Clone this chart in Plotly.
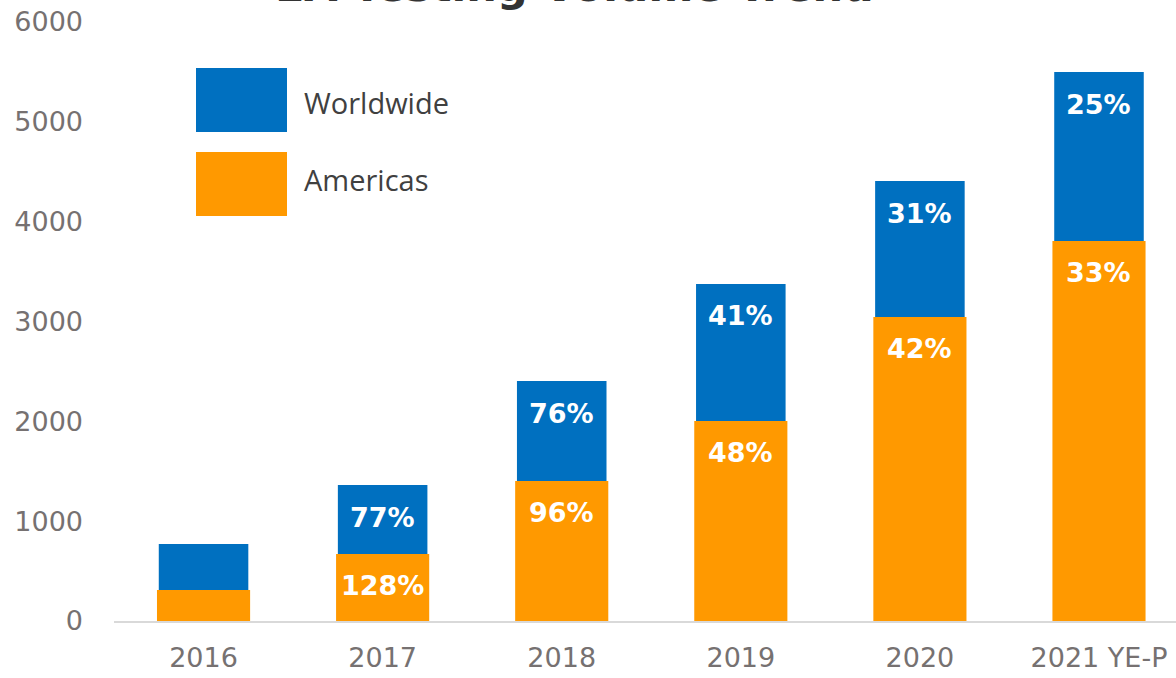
import plotly.graph_objects as go

categories = ["2016", "2017", "2018", "2019", "2020", "2021 YE-P"]
worldwide = [771, 1362, 2404, 3376, 4407, 5499]
americas = [310, 671, 1402, 2003, 3045, 3806]
worldwide_labels = ["", "77%", "76%", "41%", "31%", "25%"]
americas_labels = ["", "128%", "96%", "48%", "42%", "33%"]
y_ticks = [0, 1000, 2000, 3000, 4000, 5000, 6000]

BLUE = "#0070C0"
ORANGE = "#FF9900"
TICK_GRAY = "#767171"

fig = go.Figure()
fig.add_trace(go.Bar(x=categories, y=worldwide, name="Worldwide", width=0.5,
                     marker=dict(color=BLUE, line=dict(width=0))))
fig.add_trace(go.Bar(x=categories, y=americas, name="Americas", width=0.52,
                     marker=dict(color=ORANGE, line=dict(width=0))))

label_font = dict(family="DejaVu Sans", size=27, color="white", weight="bold")
annotations = []
for i, (val, lab) in enumerate(zip(worldwide, worldwide_labels)):
    if lab:
        annotations.append(dict(x=i, y=val, xref="x", yref="y", text=lab,
                                showarrow=False, yanchor="middle", yshift=-32,
                                font=label_font))
for i, (val, lab) in enumerate(zip(americas, americas_labels)):
    if lab:
        annotations.append(dict(x=i, y=val, xref="x", yref="y", text=lab,
                                showarrow=False, yanchor="middle", yshift=-31,
                                font=label_font))

W, H = 1176, 678
ml, mr, mt, mb = 114, 0, 22, 57
pw, ph = W - ml - mr, H - mt - mb

def px_x(x):
    return (x - ml) / pw

def px_y(y):
    return 1 - (y - mt) / ph

shapes = [
    dict(type="rect", xref="paper", yref="paper", x0=px_x(196), x1=px_x(287),
         y0=px_y(132), y1=px_y(68), fillcolor=BLUE, line=dict(width=0)),
    dict(type="rect", xref="paper", yref="paper", x0=px_x(196), x1=px_x(287),
         y0=px_y(216), y1=px_y(152), fillcolor=ORANGE, line=dict(width=0)),
]
legend_font = dict(family="Open Sans", size=29, color="#404040")
annotations.append(dict(x=px_x(302), y=px_y(102), xref="paper", yref="paper", text="Worldwide",
                        showarrow=False, xanchor="left", yanchor="middle", font=legend_font))
annotations.append(dict(x=px_x(302), y=px_y(179), xref="paper", yref="paper", text="Americas",
                        showarrow=False, xanchor="left", yanchor="middle", font=legend_font))
# title (partly cut off at the top edge in the reference)
annotations.append(dict(x=px_x(574), y=px_y(13), xref="paper", yref="paper",
                        text="<b>EA Testing Volume Trend</b>", showarrow=False,
                        xanchor="center", yanchor="bottom",
                        font=dict(family="DejaVu Sans", size=43, color="#333333")))

fig.update_layout(
    width=W, height=H,
    margin=dict(l=ml, r=mr, t=mt, b=mb),
    barmode="overlay",
    showlegend=False,
    plot_bgcolor="white", paper_bgcolor="white",
    annotations=annotations,
    shapes=shapes,
)
fig.update_xaxes(type="category", range=[-0.5, 5.43], showline=True, linecolor="#D9D9D9",
                 linewidth=2, showgrid=False, ticks="", ticklabelstandoff=12,
                 tickfont=dict(family="DejaVu Sans", size=27, color=TICK_GRAY))
fig.update_yaxes(range=[0, 6000], tickvals=y_ticks, showgrid=False, zeroline=False,
                 showline=False, ticks="", ticklabelstandoff=30, ticklabeloverflow="allow",
                 tickfont=dict(family="DejaVu Sans", size=27, color=TICK_GRAY))

fig.write_html("out.html", config={"displayModeBar": False},
               post_script="document.body.style.margin='0';")
